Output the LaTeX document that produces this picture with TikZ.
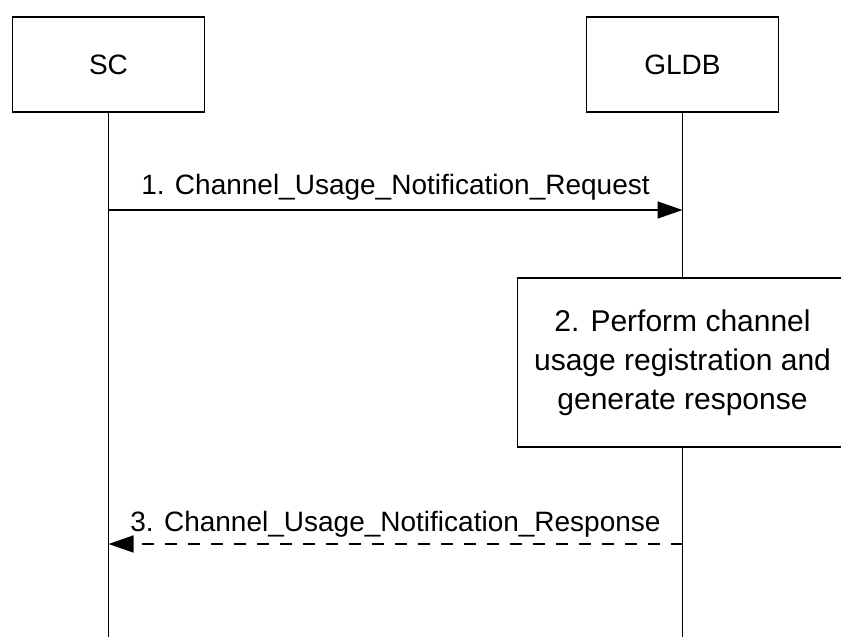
\documentclass[tikz,border=0pt]{standalone}
\usepackage{fontspec}
\setmainfont{Liberation Sans}
\usetikzlibrary{arrows.meta,positioning}

\begin{document}
\begin{tikzpicture}[x=1pt, y=-1pt, line width=1.5pt,
    entity/.style={draw, rectangle, minimum width=192pt, minimum height=95pt, text centered, font=\fontsize{28}{34}\selectfont},
    action/.style={draw, rectangle, minimum width=330pt, minimum height=169pt, align=center, font=\fontsize{30}{39}\selectfont},
    msg/.style={-{Triangle[length=25pt, width=17pt]}},
    msgtext/.style={inner sep=0pt, font=\fontsize{28}{34}\selectfont}]
                        \clip (0, 0) rectangle (841, 637);
                        \node[entity] (sc) at (108.5, 64.5) {SC};
                        \node[entity] (gldb) at (682.5, 64.5) {GLDB};
                        \node[action] (reg) at (682.5, 362.5) {2. Perform channel\\usage registration and\\generate response};
                        \coordinate (scend) at (108.5, 640);
                        \coordinate (gldbend) at (682.5, 640);
                        \coordinate (req1) at (108.5, 210);
                        \coordinate (req2) at (682.5, 210);
                        \coordinate (resp1) at (682.5, 544);
                        \coordinate (resp2) at (108.5, 544);
                        \draw (sc) -- (scend);
                        \draw (gldb) -- (reg);
                        \draw (reg) -- (gldbend);
                        \draw [msg] (req1) -- node[msgtext, above=9pt] {1. Channel\_Usage\_Notification\_Request} (req2);
                        \draw [msg, dash pattern=on 12pt off 11pt] (resp1) -- node[msgtext, above=6pt] {3. Channel\_Usage\_Notification\_Response} (resp2);
                        \end{tikzpicture}
\end{document}
